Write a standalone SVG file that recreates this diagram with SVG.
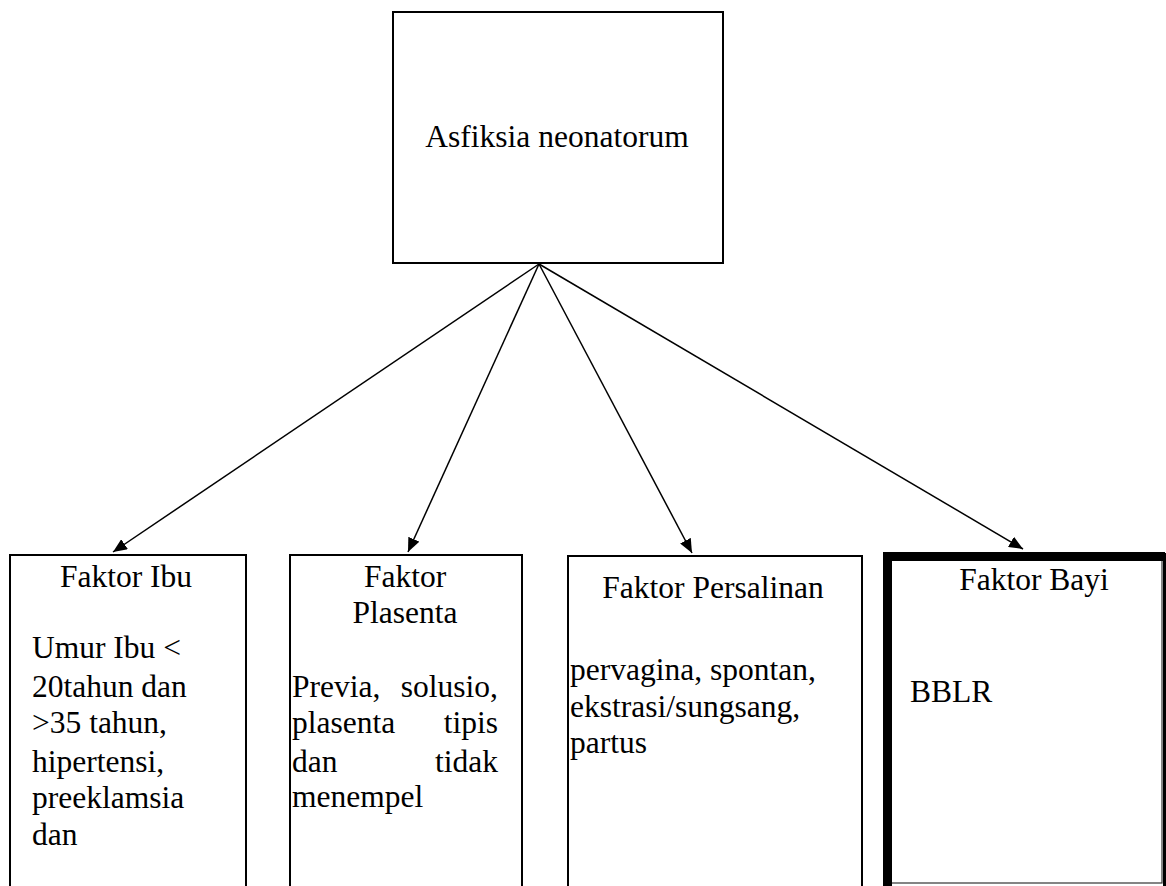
<svg xmlns="http://www.w3.org/2000/svg" width="1166" height="886" viewBox="0 0 1166 886">
<style>
  .box { fill: #fff; stroke: #000; stroke-width: 2; }
  .t { font-family: 'Liberation Serif', Tinos, 'Times New Roman', 'DejaVu Serif', serif; font-size: 31.5px; fill: #000; }
  .c { text-anchor: middle; }
  .conn { stroke: #000; stroke-width: 1.5; fill: none; marker-end: url(#ah); }
</style>
<defs>
  <marker id="ah" markerUnits="userSpaceOnUse" markerWidth="14" markerHeight="12" refX="14" refY="6" orient="auto">
    <path d="M0,0 L14,6 L0,12 z" fill="#000"/>
  </marker>
</defs>
<rect width="1166" height="886" fill="#fff"/>

<g id="node-asfiksia">
  <rect class="box" x="393" y="12" width="330" height="251"/>
  <text class="t c" x="557" y="147">Asfiksia neonatorum</text>
</g>

<g id="node-ibu">
  <path d="M10,900 L10,555 L246,555 L246,900" class="box"/>
  <text class="t c" x="126" y="587">Faktor Ibu</text>
  <text class="t" x="32" y="658">Umur Ibu &lt;</text>
  <text class="t" x="32" y="697">20tahun dan</text>
  <text class="t" x="32" y="733">&gt;35 tahun,</text>
  <text class="t" x="32" y="772">hipertensi,</text>
  <text class="t" x="32" y="808">preeklamsia</text>
  <text class="t" x="32" y="845">dan</text>
</g>

<g id="node-plasenta">
  <path d="M290,900 L290,555 L522,555 L522,900" class="box"/>
  <text class="t c" x="405" y="587">Faktor</text>
  <text class="t c" x="405" y="623">Plasenta</text>
  <text class="t" x="292" y="697">Previa,<tspan x="498" text-anchor="end">solusio,</tspan></text>
  <text class="t" x="292" y="733">plasenta<tspan x="498" text-anchor="end">tipis</tspan></text>
  <text class="t" x="292" y="772">dan<tspan x="498" text-anchor="end">tidak</tspan></text>
  <text class="t" x="292" y="807">menempel</text>
</g>

<g id="node-persalinan">
  <path d="M568,900 L568,556 L862,556 L862,900" class="box"/>
  <text class="t c" x="713" y="598">Faktor Persalinan</text>
  <text class="t" x="570" y="680">pervagina, spontan,</text>
  <text class="t" x="570" y="717">ekstrasi/sungsang,</text>
  <text class="t" x="570" y="753">partus</text>
</g>

<g id="node-bayi">
  <rect x="887" y="556" width="275" height="327" fill="#fff" stroke="#333" stroke-width="1.2"/>
  <path d="M887.5,886 L887.5,556.5 L1165,556.5" fill="none" stroke="#000" stroke-width="9"/>
  <rect x="1163" y="553" width="3" height="333" fill="#000"/>
  <text class="t c" x="1034" y="590">Faktor Bayi</text>
  <text class="t" x="910" y="702">BBLR</text>
</g>

<g id="connectors">
  <line class="conn" x1="539" y1="264" x2="113" y2="552"/>
  <line class="conn" x1="539" y1="264" x2="408" y2="552"/>
  <line class="conn" x1="539" y1="264" x2="692" y2="553"/>
  <line class="conn" x1="539" y1="264" x2="1023" y2="549"/>
</g>
</svg>
